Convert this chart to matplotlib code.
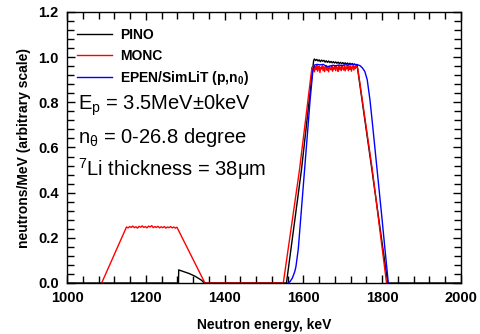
import matplotlib
matplotlib.use("Agg")
import matplotlib.pyplot as plt
from matplotlib.ticker import MultipleLocator

plt.rcParams['font.family'] = ['Liberation Sans', 'DejaVu Sans']
plt.rcParams['mathtext.fontset'] = 'custom'
plt.rcParams['mathtext.rm'] = 'Liberation Sans'
plt.rcParams['mathtext.it'] = 'Liberation Sans'
plt.rcParams['mathtext.bf'] = 'Liberation Sans:bold'

# PINO (black)
pino_e = [1000, 1283, 1283.5, 1295, 1310, 1325, 1340, 1349, 1557, 1595, 1626,
          1628, 1631, 1634, 1637, 1640, 1643, 1646, 1649, 1652, 1655, 1658, 1661,
          1664, 1667, 1670, 1673, 1676, 1679, 1682, 1685, 1688, 1691, 1694, 1697,
          1700, 1703, 1706, 1709, 1712, 1715, 1718, 1721, 1724, 1727, 1730, 1733,
          1736, 1774, 1814, 2000]
pino_v = [0, 0, 0.058, 0.051, 0.042, 0.030, 0.014, 0, 0, 0.5, 0.985,
          0.992, 0.985, 0.990, 0.983, 0.988, 0.980, 0.987, 0.982, 0.986, 0.978, 0.984, 0.977,
          0.983, 0.976, 0.981, 0.975, 0.980, 0.974, 0.979, 0.973, 0.978, 0.972, 0.977, 0.971,
          0.976, 0.970, 0.975, 0.969, 0.974, 0.968, 0.973, 0.967, 0.972, 0.966, 0.970, 0.965,
          0.968, 0.5, 0, 0]

# MONC (red)
monc_e = [1088, 1151, 1155, 1159, 1163, 1167, 1171, 1175, 1179, 1183, 1187, 1191,
          1195, 1199, 1203, 1207, 1211, 1215, 1219, 1223, 1227, 1231, 1235, 1239,
          1243, 1247, 1251, 1255, 1259, 1263, 1267, 1271, 1275, 1279, 1350, 1549,
          1590, 1620, 1622, 1624, 1626, 1628, 1630, 1632, 1634, 1636, 1638, 1640,
          1642, 1644, 1646, 1648, 1650, 1652, 1654, 1656, 1658, 1660, 1662, 1664,
          1666, 1668, 1670, 1672, 1674, 1676, 1678, 1680, 1682, 1684, 1686, 1688,
          1690, 1692, 1694, 1696, 1698, 1700, 1702, 1704, 1706, 1708, 1710, 1712,
          1714, 1716, 1718, 1720, 1722, 1724, 1726, 1728, 1730, 1732, 1734, 1736,
          1738, 1775, 1811]
monc_v = [0, 0.248, 0.244, 0.250, 0.246, 0.252, 0.245, 0.249, 0.243, 0.251, 0.247, 0.253,
          0.246, 0.250, 0.244, 0.252, 0.248, 0.254, 0.245, 0.250, 0.246, 0.251, 0.244, 0.249,
          0.245, 0.250, 0.243, 0.248, 0.245, 0.250, 0.244, 0.248, 0.243, 0.247, 0, 0,
          0.5, 0.93, 0.955, 0.940, 0.962, 0.935, 0.958, 0.945, 0.965, 0.938, 0.952, 0.960,
          0.932, 0.955, 0.948, 0.962, 0.940, 0.958, 0.936, 0.955, 0.963, 0.942, 0.957, 0.935,
          0.960, 0.950, 0.944, 0.962, 0.938, 0.955, 0.947, 0.960, 0.940, 0.958, 0.952, 0.937,
          0.962, 0.945, 0.956, 0.940, 0.960, 0.950, 0.943, 0.962, 0.939, 0.957, 0.948, 0.963,
          0.940, 0.958, 0.946, 0.960, 0.938, 0.955, 0.962, 0.943, 0.958, 0.950, 0.962, 0.955,
          0.95, 0.5, 0]

# EPEN/SimLiT (blue)
epen_e = [1561, 1566, 1572, 1578, 1581, 1587, 1597, 1607, 1617, 1624, 1628, 1635,
          1642, 1650, 1656, 1662, 1668, 1675, 1682, 1690, 1698, 1706, 1714, 1722,
          1730, 1738, 1744, 1750, 1756, 1762, 1769, 1775, 1782, 1790, 1799, 1807, 1815.5]
epen_v = [0, 0.006, 0.022, 0.05, 0.072, 0.15, 0.37, 0.59, 0.81, 0.94, 0.965, 0.968,
          0.966, 0.968, 0.962, 0.958, 0.961, 0.964, 0.962, 0.965, 0.963, 0.966, 0.965, 0.968,
          0.967, 0.966, 0.962, 0.952, 0.936, 0.90, 0.81, 0.71, 0.589, 0.45, 0.294, 0.15, 0]

fig = plt.figure(figsize=(4.8, 3.34), dpi=100)
ax = fig.add_axes([67 / 480, 51 / 334, 394 / 480, 271 / 334])

ax.plot(pino_e, pino_v, color='#000000', lw=1.0, label='PINO')
ax.plot(monc_e, monc_v, color='#ff0000', lw=1.0, label='MONC')
ax.plot(epen_e, epen_v, color='#0000ff', lw=1.0, label=r'EPEN/SimLiT (p,n$_\mathbf{0}$)')

ax.set_xlim(1000, 2000)
ax.set_ylim(0, 1.2)
ax.xaxis.set_major_locator(MultipleLocator(200))
ax.xaxis.set_minor_locator(MultipleLocator(40))
ax.yaxis.set_major_locator(MultipleLocator(0.2))
ax.yaxis.set_minor_locator(MultipleLocator(0.04))
ax.yaxis.set_major_formatter(matplotlib.ticker.FormatStrFormatter('%.1f'))
ax.tick_params(which='both', direction='in', top=True, right=True, width=1.0)
ax.tick_params(which='major', length=6, labelsize=10.5, pad=6)
ax.tick_params(which='minor', length=5)
for lab in ax.get_xticklabels() + ax.get_yticklabels():
    lab.set_fontweight('bold')
for s in ax.spines.values():
    s.set_linewidth(1.0)

ax.set_xlabel('Neutron energy, keV', fontsize=10, fontweight='bold', labelpad=9)
ax.set_ylabel('neutrons/MeV (arbitrary scale)', fontsize=10, fontweight='bold', labelpad=5)

leg = ax.legend(loc='upper left', bbox_to_anchor=(0.025, 0.94), frameon=False,
                borderpad=0, borderaxespad=0, handlelength=2.5, handletextpad=0.6,
                labelspacing=0.45, prop={'size': 10, 'weight': 'bold'})

ax.text(0.028, (283 - 110) / 271, r'E$_\mathrm{p}$ = 3.5MeV±0keV', transform=ax.transAxes,
        fontsize=14.5, va='baseline')
ax.text(0.028, (283 - 143) / 271, r'n$_\mathrm{θ}$ = 0-26.8 degree', transform=ax.transAxes,
        fontsize=14.5, va='baseline')
ax.text(0.028, (283 - 176) / 271, r'$^\mathrm{7}$Li thickness = 38μm', transform=ax.transAxes,
        fontsize=14.5, va='baseline')

fig.savefig('out.png', dpi=100)
